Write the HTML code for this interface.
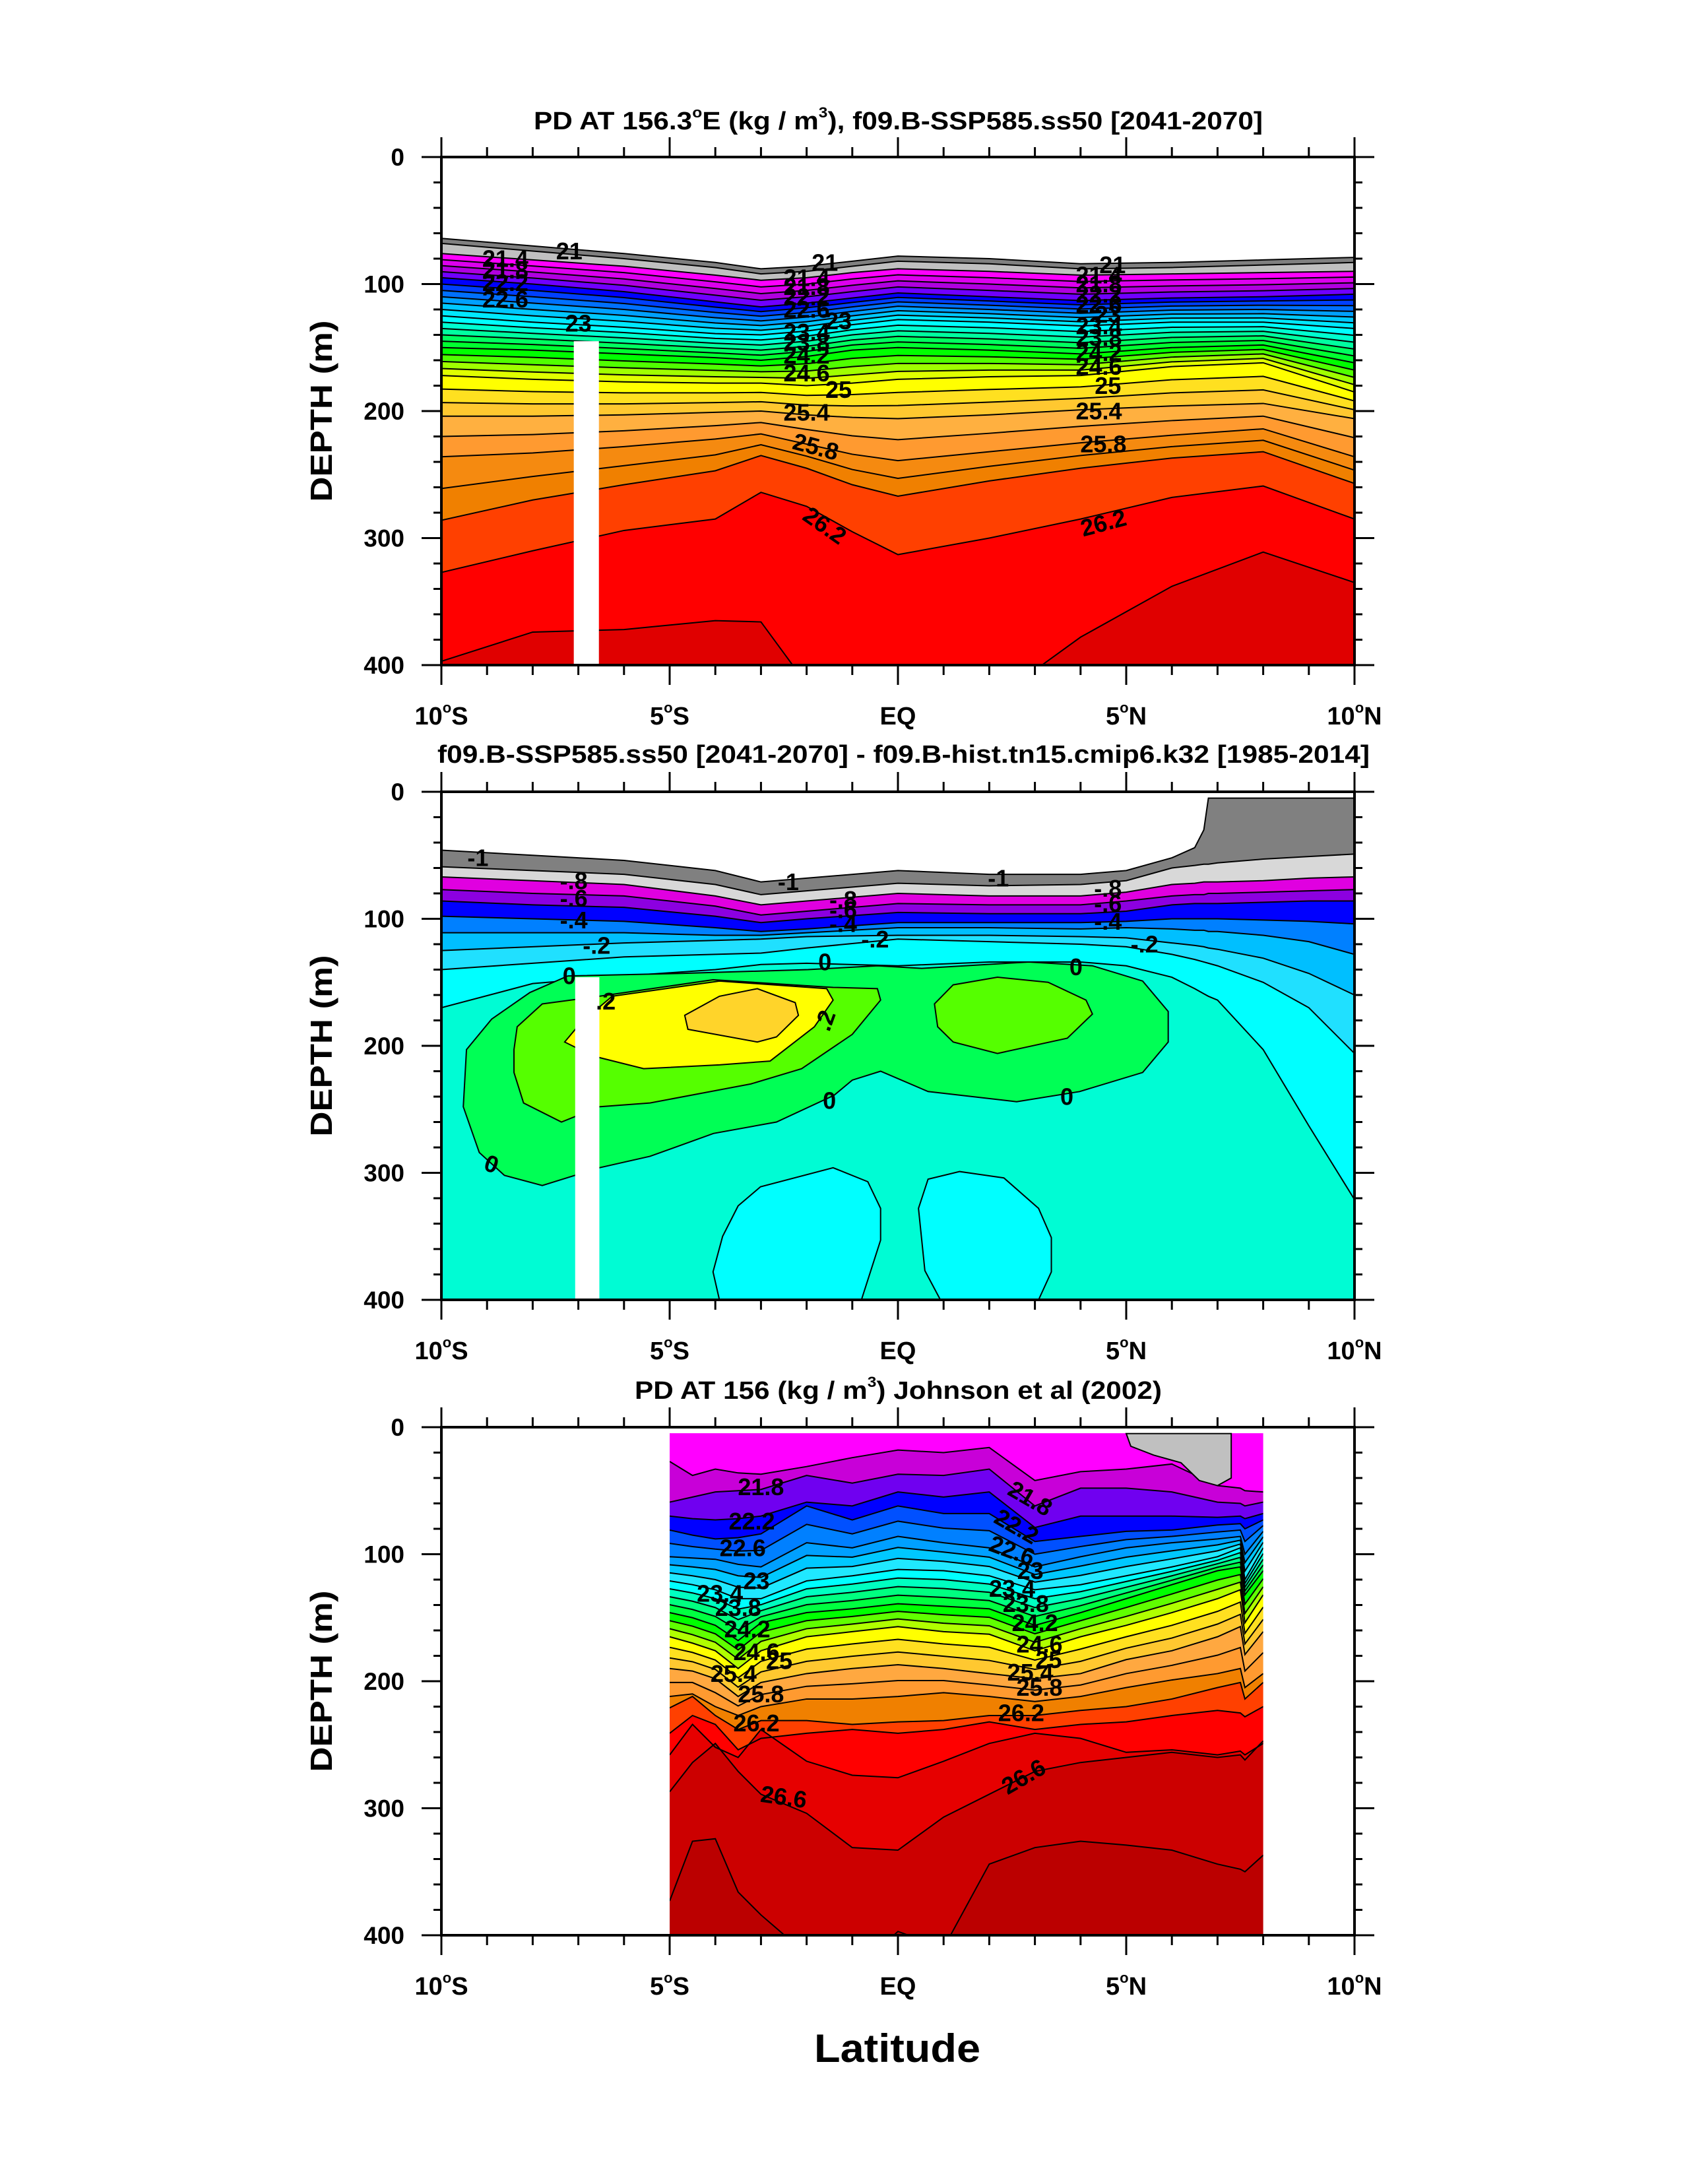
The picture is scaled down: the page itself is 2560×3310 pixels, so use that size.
<!DOCTYPE html>
<html><head><meta charset="utf-8"><style>
html,body{margin:0;padding:0;background:#fff}
svg{display:block}
text{font-family:"Liberation Sans",sans-serif;font-weight:bold;fill:#000}
</style></head><body>
<svg id="fig" xmlns="http://www.w3.org/2000/svg" width="2560" height="3310" viewBox="0 0 2560 3310">
<rect width="2560" height="3310" fill="#fff"/>
<g id="p1"></g>
<g id="p2"></g>
<g id="p3"></g>
<text x="1360" y="3125" font-size="60" text-anchor="middle" textLength="252" lengthAdjust="spacingAndGlyphs">Latitude</text>
</svg>
<script>
// ---------- Panel 1 data (depth in m of contour surfaces) ----------
const p1Lats = [-10,-8,-6,-4,-3,-2,-1,0,2,4,6,8,10];
const p1Contour21_0 = [64,70,76,83,88,86,82,78,80,84,83,81,79];
const p1Contour21_2 = [68,74,80,87,92,90,86,82,84,88,87,85,83];
const p1Contour21_4 = [76,81,86,93,97,95,91,88,90,93,92,91,90];
const p1Contour22_2 = [95,100,106,114,118,115,111,107,110,113,111,110,108];
const p1Contour23_0 = [125,130,134,139,140,137,132,128,130,133,130,130,135];
const p1Contour24_0 = [150,152,155,158,160,157,152,150,152,155,150,148,162];
const p1Contour24_8 = [172,175,177,178,178,180,178,175,173,172,165,162,185];
const p1Contour25_4 = [204,204,203,201,200,203,205,206,203,199,196,194,206];
const p1Contour25_8 = [236,233,228,222,218,226,234,239,232,225,219,214,236];
const p1Contour26_0 = [286,270,258,247,235,245,258,267,255,245,237,232,257];
const p1Contour26_2 = [327,310,294,285,264,275,295,313,300,285,268,259,285];
const p1Contour26_4 = [397,374,372,365,366,415,430,440,430,378,338,311,335];
const p1Labels = [["21",-7.2,74,0],["21",-1.6,83,0],["21",4.7,85,0],["21.4",-8.6,80,0],["21.8",-8.6,89,0],["22.2",-8.6,99,0],["22.6",-8.6,112,0],["23",-7,131,0],
 ["21.4",-2,95,0],["21.8",-2,102,0],["22.2",-2,110,0],["22.6",-2,120,0],["23",-1.3,129,0],["23.4",-2,138,0],["23.8",-2,146,0],["24.2",-2,156,0],["24.6",-2,170,0],["25",-1.3,183,0],["25.4",-2,201,0],["25.8",-1.8,228,15],["26.2",-1.6,290,35],
 ["21.4",4.4,93,0],["21.8",4.4,100,0],["22.2",4.4,108,0],["22.6",4.4,116,0],["23",4.6,124,0],["23.4",4.4,133,0],["23.8",4.4,142,0],["24.2",4.4,154,0],["24.6",4.4,165,0],["25",4.6,180,0],["25.4",4.4,200,0],["25.8",4.5,226,0],["26.2",4.5,288,-15]];

// ---------- Panel 2 data ----------
const p2Lats = [-10,-8,-6,-4,-3,-2,0,2,4,5,6,6.5,6.7,6.8,7,8,9,10];
const p2LevelM12 = [46,50,54,62,71,68,62,65,65,62,52,44,30,5,5,5,5,5];
const p2LevelM10 = [59,62,65,73,81,78,72,74,73,70,60,58,57,57,56,53,51,49];
const p2LevelM09 = [67,70,73,82,89,86,80,82,82,79,73,72,71,71,71,70,68,67];
const p2LevelM08 = [77,80,82,90,97,94,88,89,89,86,82,81,81,80,80,79,78,77];
const p2LevelM07 = [86,89,91,98,103,100,95,96,96,94,89,88,88,88,88,87,86,86];
const p2LevelM06 = [98,100,102,107,110,108,103,103,103,102,100,100,100,100,100,101,102,104];
const p2LevelM04 = [111,111,111,113,113,111,107,107,108,107,108,109,109,110,110,113,118,128];
const p2LevelM03 = [125,122,119,117,116,114,113,113,114,115,119,121,122,123,124,131,143,160];
const p2LevelM02 = [140,135,130,128,127,123,116,118,120,122,128,132,134,135,137,150,170,206];
const p2LevelM00 = [170,151,145,140,136,135,137,134,134,137,146,155,159,161,164,203,263,321];
const p2GreenLat = [-7.23,-4.74,-1.97,-0.45,0.52,2.87,4.26,5.36,5.92,5.92,5.36,3.98,2.6,0.66,-0.38,-1,-1.4,-2.66,-4.04,-5.43,-6.54,-7.79,-8.62,-9.17,-9.52,-9.45,-8.9,-8.06];
const p2GreenDep = [145,143,140,137,139,134,137,149,173,197,221,236,244,236,220,227,239,260,269,287,296,310,302,284,248,203,179,158];
const p2LimeWLat = [-8.41,-8.34,-7.79,-6.54,-4.05,-1.42,-0.45,-0.38,-1,-2.11,-3.22,-5.43,-6.54,-7.37,-8.2,-8.41];
const p2LimeWDep = [203,185,167,161,148,154,155,164,191,218,230,245,248,260,245,221];
const p2LimeELat = [0.8,1.21,2.18,3.29,4.12,4.26,3.71,2.18,1.21,0.87];
const p2LimeEDep = [167,152,146,150,164,175,194,206,197,185];
const p2YellowLat = [-7.3,-6.95,-6.26,-3.91,-1.56,-1.42,-1.83,-2.8,-3.91,-5.57,-6.68];
const p2YellowDep = [197,182,161,149,155,164,185,212,215,218,208];
const p2GoldLat = [-4.67,-3.91,-3.08,-2.25,-2.18,-2.66,-3.08,-4.6];
const p2GoldDep = [176,161,155,166,176,193,197,187];
const p2CyanALat = [-3.91,-4.05,-3.84,-3.5,-3.01,-1.42,-0.66,-0.38,-0.38,-0.8];
const p2CyanADep = [400,378,350,326,311,296,307,328,353,400];
const p2CyanBLat = [0.93,0.59,0.45,0.66,1.35,2.32,3.08,3.36,3.36,3.08];
const p2CyanBDep = [400,377,328,305,299,304,328,351,378,400];
const p2Labels = [["-1",-9.2,52,0],["-1",-2.4,71,0],["-1",2.2,68,0],["-.8",-7.1,70,0],["-.6",-7.1,84,0],["-.4",-7.1,101,0],["-.2",-6.6,121,0],
 ["-.8",-1.2,85,0],["-.6",-1.2,93,0],["-.4",-1.2,104,0],["-.2",-0.5,116,0],["-.8",4.6,76,0],["-.6",4.6,88,0],["-.4",4.6,102,0],["-.2",5.4,120,0],
 ["0",-7.2,145,0],["0",-1.6,134,0],["0",3.9,138,0],[".2",-6.4,165,0],[".2",-1.6,180,-70],["0",-1.5,243,0],["0",3.7,240,0],["0",-8.9,293,20]];

// ---------- Panel 3 data ----------
const p3Lats = [-5,-4.5,-4,-3.5,-3,-2,-1,0,1,2,3,4,5,6,7,7.5,7.6,8];
const p3Top = [5,5,5,5,5,5,5,5,5,5,5,5,5,5,5,5,5,5];
const p3L21_7 = [27,38,33,36,37,31,24,18,20,16,42,35,33,29,46,48,50,51];
const p3L22_0 = [59,55,51,50,49,38,44,37,38,33,62,48,48,51,59,60,62,59];
const p3L22_2 = [70,72,73,72,70,59,62,51,55,51,79,70,70,70,71,70,72,68];
const p3L22_4 = [81,85,88,87,84,62,73,62,68,68,90,86,82,81,77,76,80,73];
const p3L22_8 = [102,103,104,108,110,91,95,86,91,95,110,102,95,91,88,86,100,82];
const p3L23_2 = [121,124,128,135,135,121,117,112,113,117,128,124,117,110,102,95,120,95];
const p3L24_0 = [146,150,156,168,154,146,143,139,141,143,156,146,135,124,113,110,132,113];
const p3L24_4 = [165,170,176,190,176,165,161,157,161,163,176,165,156,146,135,128,154,132];
const p3L25_2 = [190,192,198,212,201,194,190,187,190,194,198,194,183,176,165,157,179,161];
const p3L25_8 = [212,210,220,227,220,214,214,212,209,212,216,212,205,199,194,190,205,194];
const p3L26_2 = [221,212,227,238,231,231,234,232,231,227,227,223,220,214,205,201,214,201];
const p3L26_4 = [241,227,234,254,245,241,238,241,238,232,238,234,232,227,223,225,228,220];
const p3L26_5 = [258,234,252,260,238,263,274,276,263,249,241,245,256,254,258,255,258,249];
const p3L26_6 = [287,264,249,271,289,304,331,333,307,289,271,264,260,256,260,258,262,247];
const p3L26_7 = [373,326,324,366,384,415,430,397,410,344,331,326,329,333,344,348,350,337];
const p3GrayLat = [5.0,5.1,5.6,6.2,6.6,7.0,7.3,7.3];
const p3GrayDep = [5,15,22,28,42,46,40,5];
const p3Labels = [["21.8",-3.0,47,0],["22.2",-3.2,74,0],["22.6",-3.4,95,0],["23",-3.1,121,0],["23.4",-3.9,131,0],["23.8",-3.5,142,0],["24.2",-3.3,159,0],["24.6",-3.1,177,0],["25",-2.6,184,0],["25.4",-3.6,194,0],["25.8",-3.0,210,0],["26.2",-3.1,233,0],["26.6",-2.5,291,8],
 ["21.8",2.9,56,30],["22.2",2.6,78,30],["22.6",2.5,97,20],["23",2.9,113,0],["23.4",2.5,127,0],["23.8",2.8,139,0],["24.2",3.0,154,0],["24.6",3.1,171,0],["25",3.3,183,0],["25.4",2.9,193,0],["25.8",3.1,205,0],["26.2",2.7,225,0],["26.6",2.75,275,-30]];

const xTickLabels = ["10°S","5°S","EQ","5°N","10°N"];
const xTickVals = [-10,-5,0,5,10];
const yTickVals = [0,100,200,300,400];

const NS="http://www.w3.org/2000/svg";
const X0=669, X1=2053, PH=770;
function mk(tag, attrs, parent){const e=document.createElementNS(NS,tag);for(const k in attrs)e.setAttribute(k,attrs[k]);parent.appendChild(e);return e;}
function makeScales(top){return {x:l=>X0+(l+10)/20*(X1-X0), y:d=>top+d/400*PH};}

function bandPoly(g,S,lats,a,b,fa,fb,color){
  const up=lats.map((l,i)=>[S.x(l),S.y(a[i]+(b[i]-a[i])*fa)]);
  const dn=lats.map((l,i)=>[S.x(l),S.y(a[i]+(b[i]-a[i])*fb)]).reverse();
  const p=mk('polygon',{points:up.concat(dn).map(q=>q.join(',')).join(' '),fill:color,stroke:color,'stroke-width':1},g);
  
  
}
function lineAt(g,S,lats,a,b,f){
  const pts=lats.map((l,i)=>S.x(l)+','+S.y(a[i]+(b[i]-a[i])*f)).join(' ');
  const p=mk('polyline',{points:pts,fill:'none',stroke:'#000','stroke-width':2},g);
  
  
}
function drawBands(g,S,lats,profiles,bands,below,lineTop){
  bands.forEach((cols,k)=>{
    const a=profiles[k], b=profiles[k+1], n=cols.length;
    cols.forEach((c,i)=>bandPoly(g,S,lats,a,b,i/n,(i+1)/n,c));
  });
  const last=profiles[profiles.length-1];
  const deep=lats.map(()=>460);
  bandPoly(g,S,lats,last,deep,0,1,below);
  bands.forEach((cols,k)=>{
    const a=profiles[k], b=profiles[k+1], n=cols.length;
    for(let i=0;i<n;i++){ if(k===0&&i===0&&!lineTop) continue; lineAt(g,S,lats,a,b,i/n);}
  });
  lineAt(g,S,lats,last,last,0);
}
function blob(g,S,lats,deps,color,name){
  const p=mk('polygon',{points:lats.map((l,i)=>S.x(l)+','+S.y(deps[i])).join(' '),fill:color,stroke:'#000','stroke-width':2},g);
  
  
}
function labels(g,S,arr){
  arr.forEach(t=>{
    const e=mk('text',{x:S.x(t[1]),y:S.y(t[2]),'font-size':36,'text-anchor':'middle','dominant-baseline':'central',transform:`rotate(${t[3]} ${S.x(t[1])} ${S.y(t[2])})`},g);
    e.textContent=t[0];
    
    
  });
}
function axes(g,S,top,title,titleX,titleW,titleY){
  const bot=top+PH;
  for(let l=-10;l<=10;l++){
    const major=l%5===0, L=major?30:15, x=S.x(l);
    const t1=mk('line',{x1:x,y1:top,x2:x,y2:top-L,stroke:'#000','stroke-width':3},g);
     
    const t2=mk('line',{x1:x,y1:bot,x2:x,y2:bot+L,stroke:'#000','stroke-width':3},g);
     
  }
  for(let d=0;d<=400;d+=20){
    const major=d%100===0, L=major?30:12, y=S.y(d);
    const t1=mk('line',{x1:X0,y1:y,x2:X0-L,y2:y,stroke:'#000','stroke-width':3},g);
     
    const t2=mk('line',{x1:X1,y1:y,x2:X1+L,y2:y,stroke:'#000','stroke-width':3},g);
     
  }
  const fr=mk('rect',{x:X0,y:top,width:X1-X0,height:PH,fill:'none',stroke:'#000','stroke-width':4},g);
   
  yTickVals.forEach(v=>{
    const e=mk('text',{x:613,y:S.y(v)+13,'font-size':37,'text-anchor':'end'},g);
    e.textContent=String(v);
     
  });
  xTickVals.forEach((v,i)=>{
    const e=mk('text',{x:S.x(v),y:bot+90,'font-size':38,'text-anchor':'middle'},g);
    const s=xTickLabels[i];
    if(s.includes('°')){
      const [a,b]=s.split('°');
      const t1=mk('tspan',{},e); t1.textContent=a;
      const t2=mk('tspan',{'font-size':22,dy:-18},e); t2.textContent='o';
      const t3=mk('tspan',{dy:18},e); t3.textContent=b;
    } else e.textContent=s;
     
  });
  const yl=mk('text',{x:0,y:0,'font-size':46,'text-anchor':'middle',transform:`translate(503 ${top+PH/2}) rotate(-90)`,textLength:275,lengthAdjust:'spacingAndGlyphs'},g);
  yl.textContent='DEPTH (m)';
   
  const tt=mk('text',{x:titleX,y:titleY,'font-size':38,textLength:titleW,lengthAdjust:'spacingAndGlyphs'},g);
  title.forEach(part=>{const s=mk('tspan',part[1]||{},tt); s.textContent=part[0];});
   
}
function clip(id,x,y,w,h){
  const svg=document.getElementById('fig');
  let defs=svg.querySelector('defs'); if(!defs){defs=mk('defs',{},svg);}
  const c=mk('clipPath',{id:id},defs); mk('rect',{x:x,y:y,width:w,height:h},c);
}

// Panel 1
(function(){
  const top=238, S=makeScales(top), g=document.getElementById('p1');
  clip('c1',X0,top,X1-X0,PH);
  const d=mk('g',{'clip-path':'url(#c1)'},g);
  const prof=[p1Contour21_0,p1Contour21_2,p1Contour21_4,p1Contour22_2,p1Contour23_0,p1Contour24_0,p1Contour24_8,p1Contour25_4,p1Contour25_8,p1Contour26_0,p1Contour26_2,p1Contour26_4];
  const bands=[['#808080'],['#c0c0c0'],['#ff00ff','#dc00ee','#b000e0','#7000ff'],['#0000ff','#0040ff','#0070ff','#00a0ff','#00c8ff','#00e8ff'],['#00ffff','#00ffd0','#00ffa0','#00ff60','#00ff30'],['#00ff00','#50ff00','#a0ff00','#e0ff00'],['#ffff00','#ffe020','#ffc830'],['#ffb040','#ff9a30'],['#f58a10','#f08000'],['#ff4000'],['#ff0000']];
  drawBands(d,S,p1Lats,prof,bands,'#e00000',true);
  const w=mk('rect',{x:S.x(-7.1),y:S.y(145),width:S.x(-6.55)-S.x(-7.1),height:S.y(400)-S.y(145),fill:'#fff'},d);
   
  labels(d,S,p1Labels);
  axes(g,S,top,[["PD AT 156.3"],["o",{'font-size':22,dy:-18}],["E (kg / m",{dy:18}],["3",{'font-size':22,dy:-18}],["), f09.B-SSP585.ss50 [2041-2070]",{dy:18}]],809,1105,196);
})();
// Panel 2
(function(){
  const top=1200, S=makeScales(top), g=document.getElementById('p2');
  clip('c2',X0,top,X1-X0,PH);
  const d=mk('g',{'clip-path':'url(#c2)'},g);
  const prof=[p2LevelM12,p2LevelM10,p2LevelM09,p2LevelM08,p2LevelM07,p2LevelM06,p2LevelM04,p2LevelM03,p2LevelM02,p2LevelM00];
  const bands=[['#808080'],['#d8d8d8'],['#e000e0'],['#8c00e0'],['#0000ff'],['#0080ff'],['#00bfff'],['#20e0ff'],['#00ffff']];
  drawBands(d,S,p2Lats,prof,bands,'#00fcd4',true);
  blob(d,S,p2GreenLat,p2GreenDep,'#00ff55','positive-anomaly-region');
  blob(d,S,p2LimeWLat,p2LimeWDep,'#55ff00','anomaly-0.1-west');
  blob(d,S,p2LimeELat,p2LimeEDep,'#55ff00','anomaly-0.1-east');
  blob(d,S,p2YellowLat,p2YellowDep,'#ffff00','anomaly-0.2');
  blob(d,S,p2GoldLat,p2GoldDep,'#ffd42a','anomaly-0.3');
  blob(d,S,p2CyanALat,p2CyanADep,'#00ffff','deep-negative-west');
  blob(d,S,p2CyanBLat,p2CyanBDep,'#00ffff','deep-negative-east');
  const w=mk('rect',{x:S.x(-7.07),y:S.y(146),width:S.x(-6.54)-S.x(-7.07),height:S.y(400)-S.y(146),fill:'#fff'},d);
   
  labels(d,S,p2Labels);
  axes(g,S,top,[["f09.B-SSP585.ss50 [2041-2070] - f09.B-hist.tn15.cmip6.k32 [1985-2014]"]],663,1413,1156);
})();
// Panel 3
(function(){
  const top=2163, S=makeScales(top), g=document.getElementById('p3');
  clip('c3',S.x(-5),S.y(4.5),S.x(8)-S.x(-5),S.y(400)-S.y(4.5));
  const d=mk('g',{'clip-path':'url(#c3)'},g);
  const prof=[p3Top,p3L21_7,p3L22_0,p3L22_2,p3L22_4,p3L22_8,p3L23_2,p3L24_0,p3L24_4,p3L25_2,p3L25_8,p3L26_2,p3L26_4,p3L26_5,p3L26_6,p3L26_7];
  const bands=[['#ff00ff'],['#c800d8'],['#7000f0'],['#0000ff'],['#0050ff','#0080ff'],['#00a0ff','#00c8ff','#20e8ff'],['#00ffff','#00ffc0','#00ff80','#00ff40'],['#00ff00','#60ff00','#b0ff00'],['#ffff00','#ffe020','#ffc830'],['#ffa840','#ff9a30'],['#f08000'],['#ff4000'],['#ff0000'],['#e60000'],['#cc0000']];
  drawBands(d,S,p3Lats,prof,bands,'#bb0000',false);
  blob(d,S,p3GrayLat,p3GrayDep,'#c0c0c0','missing-surface-region');
  labels(d,S,p3Labels);
  axes(g,S,top,[["PD AT 156 (kg / m"],["3",{'font-size':22,dy:-18}],[") Johnson et al (2002)",{dy:18}]],962,799,2120);
})();
</script>
</body></html>
